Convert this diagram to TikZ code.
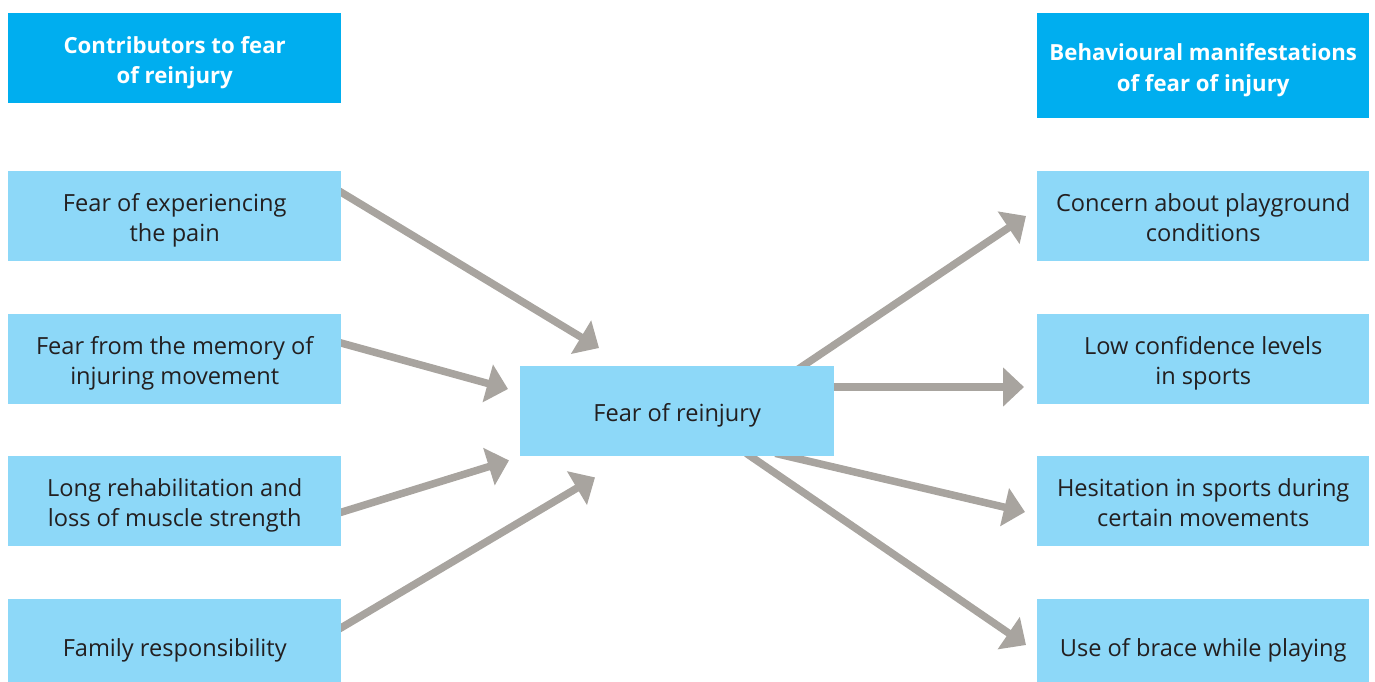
\documentclass[tikz,border=0pt]{standalone}
\usepackage{fontspec}
\setmainfont{Open Sans}
\usetikzlibrary{arrows.meta}
\definecolor{hdr}{HTML}{00AEEF}
\definecolor{bx}{HTML}{8DD8F8}
\definecolor{arr}{HTML}{A8A49F}
\definecolor{txt}{HTML}{231F20}
\newcommand{\boxlines}[1]{\raisebox{-4pt}[\height][\depth]{\begin{tabular}{@{}c@{}}#1\end{tabular}}}
\pgfdeclarelayer{bg}
\pgfsetlayers{bg,main}
\begin{document}
\begin{tikzpicture}[x=1pt,y=-1pt,
 hdrbox/.style={fill=hdr, text=white, font=\fontsize{22.2}{30.5}\selectfont\bfseries, minimum width=333pt, inner sep=0pt, anchor=north west},
 itembox/.style={fill=bx, text=txt, font=\fontsize{23.6}{30.5}\selectfont, minimum width=333pt, minimum height=90pt, inner sep=0pt, anchor=north west},
 flow/.style={draw=arr, line width=7.5pt, -{Triangle[length=21pt,width=38pt]}}]
\useasboundingbox (0,0) rectangle (1375,682);
\node[hdrbox, minimum height=90pt] (hl) at (8,13) {\boxlines{Contributors to fear\\of reinjury}};
\node[hdrbox, minimum height=105pt, minimum width=332pt] (hr) at (1037,13) {\boxlines{Behavioural manifestations\\of fear of injury}};
\node[itembox] (l1) at (8,171) {\boxlines{Fear of experiencing\\the pain}};
\node[itembox] (l2) at (8,314) {\boxlines{Fear from the memory of\\injuring movement}};
\node[itembox] (l3) at (8,456) {\boxlines{Long rehabilitation and\\loss of muscle strength}};
\node[itembox, minimum height=94pt] (l4) at (8,599) {\boxlines{Family responsibility}};
\node[itembox, minimum width=332pt] (r1) at (1037,171) {\boxlines{Concern about playground\\conditions}};
\node[itembox, minimum width=332pt] (r2) at (1037,314) {\boxlines{Low confidence levels\\in sports}};
\node[itembox, minimum width=332pt] (r3) at (1037,456) {\boxlines{Hesitation in sports during\\certain movements}};
\node[itembox, minimum width=332pt, minimum height=94pt] (r4) at (1037,599) {\boxlines{Use of brace while playing}};
\node[itembox, minimum width=314pt] (c) at (520,366) {\boxlines{Fear of reinjury}};
\begin{pgfonlayer}{bg}
\draw[flow] ([xshift=-4pt,yshift=-19pt]l1.north east) -- ([xshift=79pt,yshift=18pt]c.north west);
\draw[flow] ([xshift=-4pt,yshift=-28pt]l2.north east) -- ([xshift=-12pt,yshift=-23pt]c.north west);
\draw[flow] ([xshift=-4pt,yshift=33pt]l3.south east) -- ([xshift=-11pt,yshift=-4pt]c.south west);
\draw[flow] ([xshift=-4pt,yshift=-31pt]l4.north east) -- ([xshift=75pt,yshift=-21pt]c.south west);
\draw[flow] ([xshift=-36pt,yshift=-3pt]c.north east) -- ([xshift=-11pt,yshift=-45pt]r1.north west);
\draw[flow] ([xshift=-4pt,yshift=-21pt]c.north east) -- ([xshift=-13pt,yshift=-73pt]r2.north west);
\draw[flow] ([xshift=-59pt,yshift=3pt]c.south east) -- ([xshift=-12pt,yshift=-56pt]r3.north west);
\draw[flow] ([xshift=-88pt,yshift=3pt]c.south east) -- ([xshift=-11pt,yshift=-46pt]r4.north west);
\end{pgfonlayer}
\end{tikzpicture}
\end{document}
